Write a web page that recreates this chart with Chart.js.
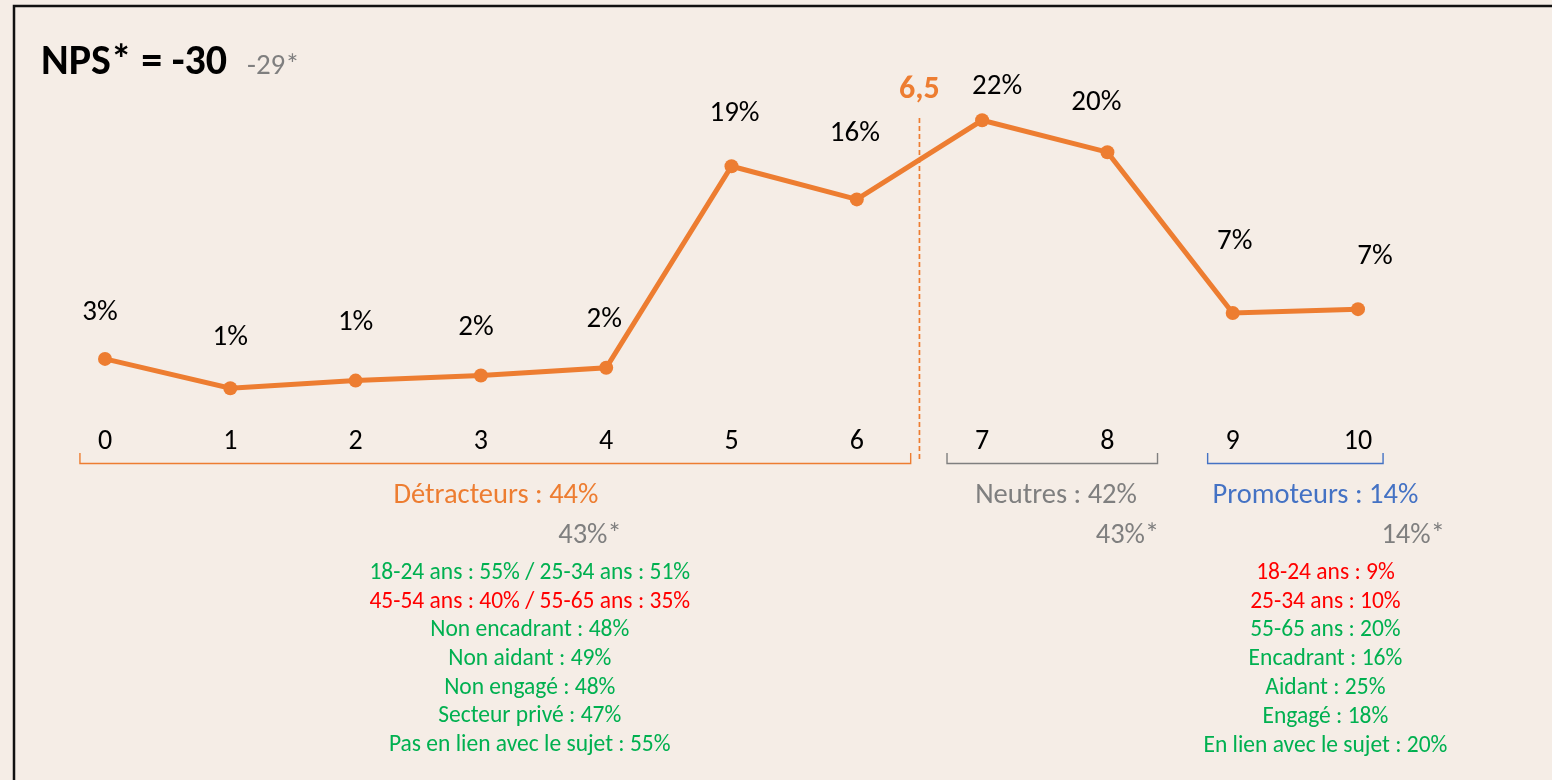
<!DOCTYPE html>
<html><head><meta charset="utf-8">
<script src="https://cdn.jsdelivr.net/npm/chart.js@4.4.0/dist/chart.umd.min.js"></script>
<style>html,body{margin:0;padding:0;background:#f5ede6;}canvas{display:block}</style>
</head><body>
<canvas id="c" width="1552" height="780"></canvas>
<script>
// ---- data ----
const categories = ['0','1','2','3','4','5','6','7','8','9','10'];
const shares = [3.3, 1.0, 1.6, 2.0, 2.6, 18.4, 15.8, 22.0, 19.5, 6.9, 7.2];
const shareLabels = ['3%','1%','1%','2%','2%','19%','16%','22%','20%','7%','7%'];
const threshold = 6.5;
const thresholdLabel = '6,5';
const npsTitle = 'NPS* = -30';
const npsPrevious = '-29*';
const groupNames = ['Détracteurs : 44%', 'Neutres : 42%', 'Promoteurs : 14%'];
const groupPrevious = ['43%*', '43%*', '14%*'];
const groupRanges = [[0, 6], [7, 8], [9, 10]];
const detractorNotes = ['18-24 ans : 55% / 25-34 ans : 51%','45-54 ans : 40% / 55-65 ans : 35%','Non encadrant : 48%','Non aidant : 49%','Non engagé : 48%','Secteur privé : 47%','Pas en lien avec le sujet : 55%'];
const detractorNoteTone = ['up','down','up','up','up','up','up'];
const promoterNotes = ['18-24 ans : 9%','25-34 ans : 10%','55-65 ans : 20%','Encadrant : 16%','Aidant : 25%','Engagé : 18%','En lien avec le sujet : 20%'];
const promoterNoteTone = ['down','down','up','up','up','up','up'];

// ---- styles ----
const FONT = 'Carlito, Lato, sans-serif';
const ORANGE = '#ed7d31', GRAY = '#7f7f7f', BLUE = '#4472c4', GREEN = '#00b050', RED = '#ff0000';
const groupColors = [ORANGE, GRAY, BLUE];
const toneColor = {up: GREEN, down: RED};

const labelOffsets = [[-5,-46],[0,-50],[0,-58],[-5,-48],[-2,-48],[3,-52],[-2,-66],[15,-34],[-11,-49],[2,-71],[17,-52]];
const bracketExt = [[-0.2, 0.43], [-0.28, 0.4], [-0.2, 0.2]];

const decor = {
  id: 'decor',
  beforeDraw(chart) {
    const ctx = chart.ctx;
    ctx.save();
    ctx.fillStyle = '#f5ede6';
    ctx.fillRect(0, 0, chart.width, chart.height);
    ctx.strokeStyle = '#111';
    ctx.lineWidth = 2.5;
    ctx.strokeRect(14, 6, chart.width + 20, chart.height + 20);
    ctx.restore();
  },
  afterDraw(chart) {
    const ctx = chart.ctx;
    const xs = chart.scales.x;
    const px = v => xs.getPixelForValue(v);
    ctx.save();
    // title
    ctx.textBaseline = 'alphabetic';
    ctx.textAlign = 'left';
    ctx.fillStyle = '#000';
    ctx.font = `bold 42px ${FONT}`;
    ctx.fillText(npsTitle, 41, 74);
    ctx.fillStyle = GRAY;
    ctx.font = `29px ${FONT}`;
    ctx.fillText(npsPrevious, 247, 74);

    // threshold line
    const tx = px(threshold);
    ctx.strokeStyle = ORANGE;
    ctx.lineWidth = 1.7;
    ctx.setLineDash([5, 3]);
    ctx.beginPath(); ctx.moveTo(tx, 118); ctx.lineTo(tx, 462); ctx.stroke();
    ctx.setLineDash([]);
    ctx.fillStyle = ORANGE;
    ctx.font = `bold 32px ${FONT}`;
    ctx.textAlign = 'center'; ctx.textBaseline = 'middle';
    ctx.fillText(thresholdLabel, tx, 90);

    // value labels
    const meta = chart.getDatasetMeta(0);
    ctx.fillStyle = '#000';
    ctx.font = `29px ${FONT}`;
    meta.data.forEach((pt, i) => {
      ctx.fillText(shareLabels[i], pt.x + labelOffsets[i][0], pt.y + labelOffsets[i][1]);
    });

    // brackets
    groupRanges.forEach((r, g) => {
      const x0 = px(r[0] + bracketExt[g][0]);
      const x1 = px(r[1] + bracketExt[g][1]);
      ctx.strokeStyle = groupColors[g];
      ctx.lineWidth = 1.4;
      ctx.beginPath();
      ctx.moveTo(x0, 453); ctx.lineTo(x0, 463.5); ctx.lineTo(x1, 463.5); ctx.lineTo(x1, 453);
      ctx.stroke();
    });

    // group labels
    const nameX = [3.12, 7.59, 9.66];
    const prevX = [3.87, 8.16, 10.44];
    ctx.font = `28.5px ${FONT}`;
    groupNames.forEach((t, g) => {
      ctx.fillStyle = groupColors[g];
      ctx.fillText(t, px(nameX[g]), 496);
      ctx.fillStyle = GRAY;
      ctx.fillText(groupPrevious[g], px(prevX[g]), 536);
    });

    // notes
    ctx.font = `23.5px ${FONT}`;
    detractorNotes.forEach((t, i) => {
      ctx.fillStyle = toneColor[detractorNoteTone[i]];
      ctx.fillText(t, px(3.39), 573 + i * 28.7);
    });
    promoterNotes.forEach((t, i) => {
      ctx.fillStyle = toneColor[promoterNoteTone[i]];
      ctx.fillText(t, px(9.74), 573 + i * 28.8);
    });
    ctx.restore();
  }
};

new Chart(document.getElementById('c'), {
  type: 'line',
  data: {
    labels: categories,
    datasets: [{
      data: shares,
      borderColor: ORANGE,
      backgroundColor: ORANGE,
      borderWidth: 5,
      pointRadius: 7,
      pointHoverRadius: 7,
      pointBorderWidth: 0,
      tension: 0,
      clip: false
    }]
  },
  options: {
    responsive: false,
    animation: false,
    events: [],
    layout: { padding: { left: 105, right: 194, top: 82, bottom: 319 } },
    plugins: { legend: { display: false }, tooltip: { enabled: false } },
    scales: {
      x: {
        type: 'category',
        offset: false,
        grid: { display: false, drawTicks: false },
        border: { display: false },
        ticks: { color: '#000', font: { family: FONT, size: 28 }, padding: 24, maxRotation: 0, autoSkip: false },
        afterFit(s) { s.height = 60; }
      },
      y: { display: false, min: 0, max: 25 }
    }
  },
  plugins: [decor]
});
</script>
</body></html>
